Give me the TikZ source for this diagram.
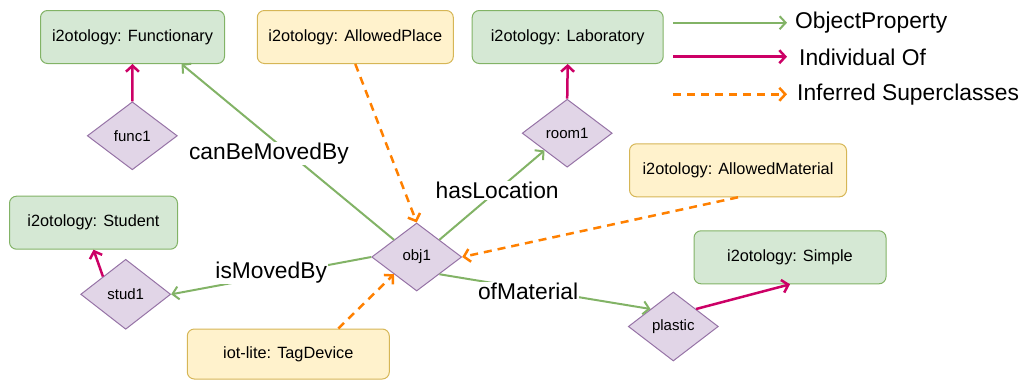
\documentclass[tikz,border=0pt]{standalone}
\usepackage{fontspec}
\setmainfont{Liberation Sans}
\usetikzlibrary{arrows.meta,shapes.geometric}

\definecolor{clsfill}{HTML}{D5E8D4}
\definecolor{clsline}{HTML}{82B366}
\definecolor{inffill}{HTML}{FFF2CC}
\definecolor{infline}{HTML}{D6B656}
\definecolor{indfill}{HTML}{E1D5E7}
\definecolor{indline}{HTML}{9673A6}
\definecolor{isofline}{HTML}{CC0066}
\definecolor{supline}{HTML}{FF8000}

\tikzset{
  clsbox/.style={draw=clsline, fill=clsfill, rounded corners=7pt, line width=1pt,
    minimum height=53pt, inner sep=0pt, font=\fontsize{16.3}{19}\selectfont},
  infbox/.style={clsbox, draw=infline, fill=inffill},
  indiv/.style={diamond, draw=indline, fill=indfill, line width=1pt, aspect=1.3,
    minimum width=90pt, minimum height=68pt, inner sep=0pt, font=\fontsize{15}{18}\selectfont},
  tip/.style={-{Straight Barb[length=6pt,width=13pt]}},
  objprop/.style={tip, draw=clsline, line width=2pt},
  isof/.style={tip, draw=isofline, line width=2.5pt},
  supcls/.style={tip, draw=supline, line width=2.5pt, dash pattern=on 8pt off 6pt},
  lbl/.style={fill=white, inner sep=1pt, font=\fontsize{22.8}{27}\selectfont},
  legtxt/.style={anchor=west, inner xsep=8pt, inner ysep=2pt, font=\fontsize{22.8}{27}\selectfont},
}

\begin{document}
\begin{tikzpicture}[x=1pt, y=-1pt]
  %%%%% START %%%%%
  \useasboundingbox (0,0) rectangle (1033,380);

  % classes
  \node[clsbox, minimum width=184pt] (func) at (132.5,37) {i2otology: Functionary};
  \node[infbox, minimum width=196pt] (place) at (355.3,37) {i2otology: AllowedPlace};
  \node[clsbox, minimum width=191pt] (lab) at (567.7,37) {i2otology: Laboratory};
  \node[infbox, minimum width=217pt] (mat) at (738,170.3) {i2otology: AllowedMaterial};
  \node[clsbox, minimum width=168pt] (stud) at (93.5,222.7) {i2otology: Student};
  \node[infbox, minimum width=202pt, minimum height=50pt] (tag) at (288.3,354) {iot-lite: TagDevice};
  \node[clsbox, minimum width=192pt] (simple) at (790,257.3) {i2otology: Simple};

  % individuals
  \node[indiv] (func1) at (132.3,135.8) {func1};
  \node[indiv] (room1) at (567.2,133.2) {room1};
  \node[indiv, minimum height=70pt] (stud1) at (125.7,294.3) {stud1};
  \node[indiv] (obj1) at (416.7,257) {obj1};
  \node[indiv, minimum height=69pt] (plastic) at (673.3,326.5) {plastic};

  % individual of
  \draw[isof] (func1.north) -- (func.south);
  \draw[isof] (room1.north) -- (lab.south);
  \draw[isof] (stud1.north west) -- (stud.south);
  \draw[isof] (plastic.north east) -- (simple.south);

  % inferred superclasses
  \draw[supcls] (place.south) -- (obj1.north);
  \draw[supcls] (mat.south) -- (obj1.east);
  \draw[supcls] ([xshift=50pt]tag.north) -- (obj1.south west);

  % object properties
  \draw[objprop] (obj1.north west) -- ([xshift=49pt]func.south)
    node[lbl, pos=0.49, xshift=-21pt] {canBeMovedBy};
  \draw[objprop] (obj1.north east) -- (room1.south west)
    node[lbl, pos=0.55] {hasLocation};
  \draw[objprop] (obj1.west) -- (stud1.east)
    node[lbl, pos=0.5, yshift=3pt] {isMovedBy};
  \draw[objprop] (obj1.south east) -- (plastic.north west)
    node[lbl, pos=0.42, yshift=-3pt] {ofMaterial};

  % legend
  \coordinate (lg1) at (673,22.7);
  \coordinate (lg2) at (673,56.7);
  \coordinate (lg3) at (673,94.3);
  \node[legtxt] (lgprop) at (787,22.7) {ObjectProperty};
  \node[legtxt] (lgisof) at (787,57) {\hspace{4pt}Individual Of};
  \node[legtxt] (lgsup) at (787,95) {\hspace{2pt}Inferred Superclasses};
  \draw[objprop] (lg1) -- (lg1 -| lgprop.west);
  \draw[isof] (lg2) -- (lg2 -| lgisof.west);
  \draw[supcls] (lg3) -- (lg3 -| lgsup.west);

  %%%%% END %%%%%
\end{tikzpicture}
\end{document}
